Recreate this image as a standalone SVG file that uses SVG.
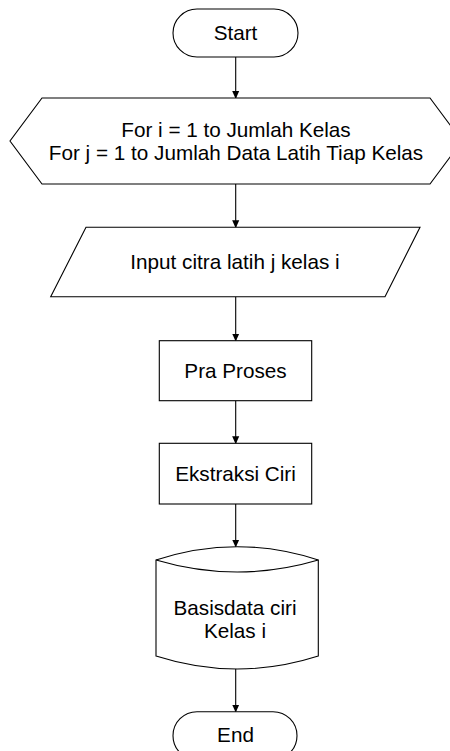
<svg xmlns="http://www.w3.org/2000/svg" width="450" height="751" viewBox="0 0 450 751">
<style>
.s{fill:#fff;stroke:#000;stroke-width:1.1}
.t{font-family:"Liberation Sans",Arial,sans-serif;font-size:20.7px;fill:#000;text-anchor:middle}
.c{stroke:#000;stroke-width:1.1;fill:none;marker-end:url(#a)}
</style>
<defs>
<marker id="a" markerWidth="8" markerHeight="10" refX="8" refY="4" orient="auto" markerUnits="userSpaceOnUse" viewBox="0 0 9 8">
<path d="M0,0 L9,4 L0,8 Z" fill="#000"/>
</marker>
</defs>
<rect width="450" height="751" fill="#fff"/>
<g id="connectors">
<line class="c" x1="235.7" y1="57" x2="235.7" y2="98"/>
<line class="c" x1="235.7" y1="184" x2="235.7" y2="227.3"/>
<line class="c" x1="235.7" y1="296.7" x2="235.7" y2="340.7"/>
<line class="c" x1="235.7" y1="400.7" x2="235.7" y2="443.3"/>
<line class="c" x1="235.7" y1="504" x2="235.7" y2="546.7"/>
<line class="c" x1="235.7" y1="669" x2="235.7" y2="711.7"/>
</g>
<g id="start">
<rect class="s" x="173" y="9" width="125" height="48" rx="24" ry="24"/>
<text class="t" x="235.5" y="39.5">Start</text>
</g>
<g id="loop">
<polygon class="s" points="42,98 430,98 462,141 430,184 42,184 10,141"/>
<text class="t" x="236" y="136.5">For i = 1 to Jumlah Kelas</text>
<text class="t" x="236" y="160">For j = 1 to Jumlah Data Latih Tiap Kelas</text>
</g>
<g id="input">
<polygon class="s" points="86,227.3 420,227.3 385,296.7 50.7,296.7"/>
<text class="t" x="235" y="269.3">Input citra latih j kelas i</text>
</g>
<g id="praproses">
<rect class="s" x="159.3" y="340.7" width="152.4" height="60"/>
<text class="t" x="235.5" y="378">Pra Proses</text>
</g>
<g id="ekstraksi">
<rect class="s" x="159.3" y="443.3" width="152.4" height="60.7"/>
<text class="t" x="235.5" y="481">Ekstraksi Ciri</text>
</g>
<g id="basisdata">
<path class="s" d="M156,560 Q237,533.4 318.3,560 L318.3,656 Q237,682 156,656 Z"/>
<path class="s" d="M156,560 Q237,584 318.3,560" fill="none"/>
<text class="t" x="235" y="615">Basisdata ciri</text>
<text class="t" x="235" y="638.3">Kelas i</text>
</g>
<g id="end">
<rect class="s" x="173" y="711.7" width="124" height="48" rx="24" ry="24"/>
<text class="t" x="235.5" y="742">End</text>
</g>
</svg>
